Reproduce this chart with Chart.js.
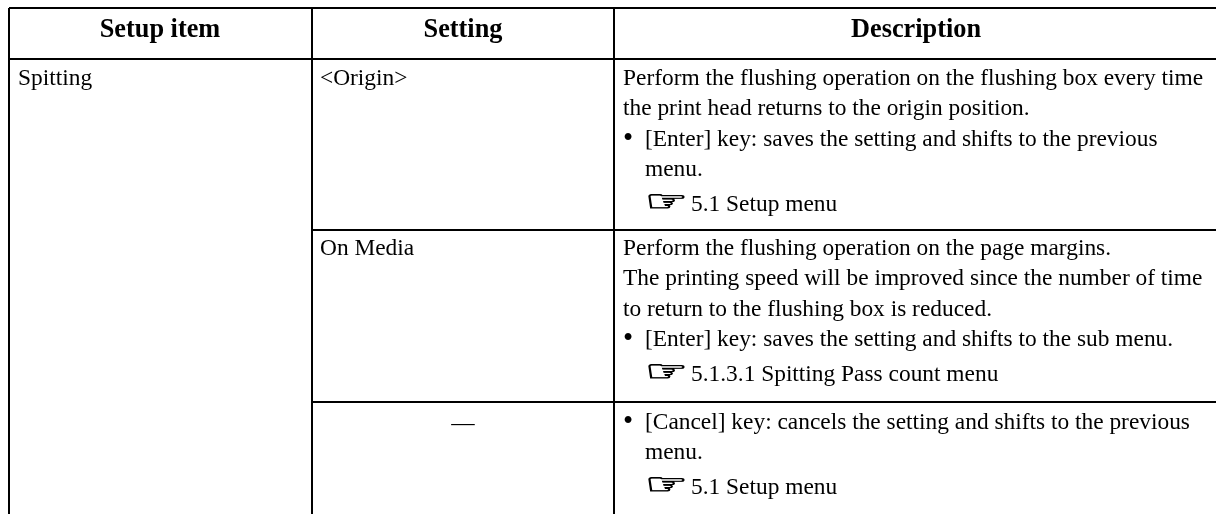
<!DOCTYPE html>
<html>
<head>
<meta charset="utf-8">
<title>Setup table</title>
<script src="https://cdn.jsdelivr.net/npm/chart.js@4"></script>
<style>
  html, body { margin: 0; background: #fff; }
  canvas { display: block; }
</style>
</head>
<body>
<canvas id="chart" width="1216" height="514"></canvas>
<script>
// table content
const headers = ['Setup item', 'Setting', 'Description'];
const items = ['Spitting'];
const settings = ['<Origin>', 'On Media', '—'];
const originLines = [
  'Perform the flushing operation on the flushing box every time',
  'the print head returns to the origin position.',
  '• [Enter] key: saves the setting and shifts to the previous',
  '  menu.',
  '☞5.1 Setup menu'
];
const mediaLines = [
  'Perform the flushing operation on the page margins.',
  'The printing speed will be improved since the number of time',
  'to return to the flushing box is reduced.',
  '• [Enter] key: saves the setting and shifts to the sub menu.',
  '☞5.1.3.1 Spitting Pass count menu'
];
const cancelLines = [
  '• [Cancel] key: cancels the setting and shifts to the previous',
  '  menu.',
  '☞5.1 Setup menu'
];

// table rules, in axis units (the axes run 0-1216 and 0-514)
const columnEdges = [9, 312, 614];
const rowEdges = [8, 59, 230, 402];
const tableEnd = [1216, 514];

const SERIF = '"Liberation Serif", serif';
const BODY_SIZE = 23.4;
const LINE_GAP = 30.4;

function rule(x0, y0, x1, y1) {
  return {
    data: [{ x: x0, y: y0 }, { x: x1, y: y1 }],
    borderColor: '#000',
    borderWidth: 2,
    pointRadius: 0,
    tension: 0
  };
}

const rules = [
  rule(columnEdges[0], rowEdges[0], tableEnd[0], rowEdges[0]),
  rule(columnEdges[0], rowEdges[1], tableEnd[0], rowEdges[1]),
  rule(columnEdges[1], rowEdges[2], tableEnd[0], rowEdges[2]),
  rule(columnEdges[1], rowEdges[3], tableEnd[0], rowEdges[3])
].concat(columnEdges.map(x => rule(x, rowEdges[0], x, tableEnd[1])));

// cell text is painted on top of the rules
const tableText = {
  id: 'tableText',
  afterDraw(chart) {
    const { ctx, scales } = chart;
    const px = v => scales.x.getPixelForValue(v);
    const py = v => scales.y.getPixelForValue(v);
    ctx.save();
    ctx.fillStyle = '#000';
    ctx.textBaseline = 'alphabetic';

    ctx.font = 'bold 26.3px ' + SERIF;
    ctx.textAlign = 'center';
    ctx.fillText(headers[0], px(160), py(37));
    ctx.fillText(headers[1], px(463), py(37));
    ctx.fillText(headers[2], px(916), py(37));

    ctx.font = BODY_SIZE + 'px ' + SERIF;
    ctx.textAlign = 'left';
    ctx.fillText(items[0], px(18), py(85));
    ctx.fillText(settings[0], px(320), py(85));
    ctx.fillText(settings[1], px(320), py(255));
    ctx.textAlign = 'center';
    ctx.fillText(settings[2], px(463), py(430));
    ctx.textAlign = 'left';

    drawLines(ctx, originLines, px(623), py(85));
    drawLines(ctx, mediaLines, px(623), py(255));
    drawLines(ctx, cancelLines, px(623), py(429));
    ctx.restore();
  }
};

function drawLines(ctx, lines, x, y) {
  lines.forEach((line, i) => {
    const ly = y + i * LINE_GAP;
    if (line.startsWith('• ')) {
      ctx.font = '29px ' + SERIF;
      ctx.fillText('•', x, ly + 1);
      ctx.font = BODY_SIZE + 'px ' + SERIF;
      ctx.fillText(line.slice(2), x + 22, ly);
    } else if (line.startsWith('  ')) {
      ctx.fillText(line.trim(), x + 22, ly);
    } else if (line.startsWith('☞')) {
      // the pointer glyph is wider and heavier than DejaVu's, and its line sits lower
      ctx.save();
      ctx.translate(x + 22, ly + 4);
      ctx.scale(1.65, 1);
      ctx.font = 'bold 29px "DejaVu Sans"';
      ctx.lineWidth = 0.8;
      ctx.fillText('☞', 0, 0);
      ctx.strokeText('☞', 0, 0);
      ctx.restore();
      ctx.fillText(line.slice(1), x + 68, ly + 4);
    } else {
      ctx.fillText(line, x, ly);
    }
  });
}

new Chart(document.getElementById('chart'), {
  type: 'line',
  data: { datasets: rules },
  options: {
    responsive: false,
    animation: false,
    layout: { padding: 0 },
    plugins: { legend: { display: false }, tooltip: { enabled: false } },
    scales: {
      x: { type: 'linear', min: 0, max: 1216, display: false },
      y: { type: 'linear', min: 0, max: 514, reverse: true, display: false }
    }
  },
  plugins: [tableText]
});
</script>
</body>
</html>
